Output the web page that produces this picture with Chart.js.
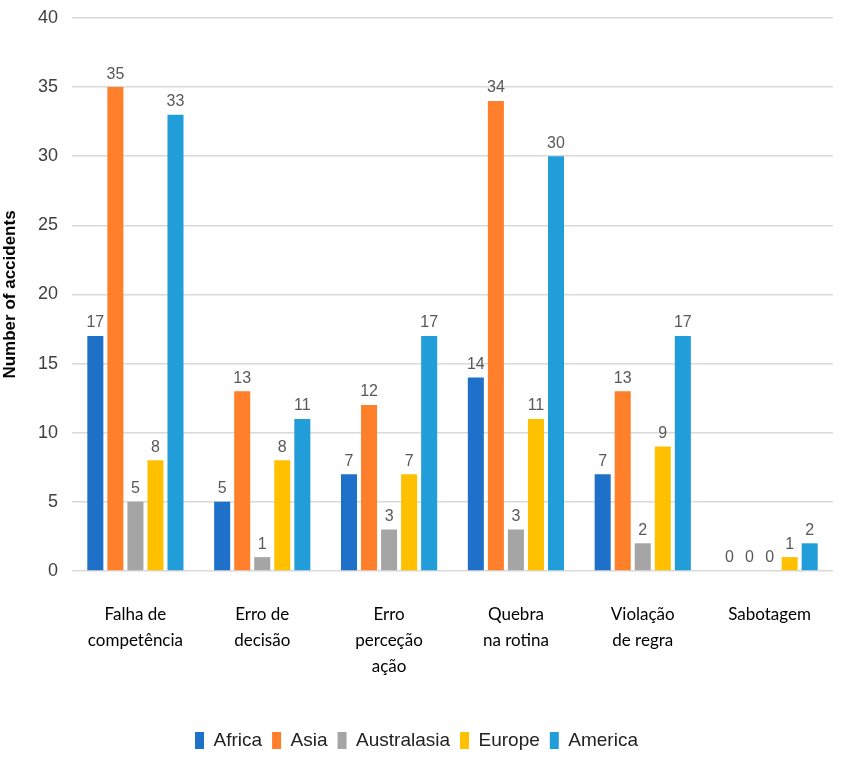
<!DOCTYPE html>
<html>
<head>
<meta charset="utf-8">
<script src="https://cdn.jsdelivr.net/npm/chart.js@4"></script>
<style>
  html, body { margin: 0; padding: 0; background: #fff; }
  #wrap { width: 853px; height: 760px; }
</style>
</head>
<body>
<div id="wrap"><canvas id="chartJS"></canvas></div>
<script>
const categories = [
    ['Falha de', 'competência'],
    ['Erro de', 'decisão'],
    ['Erro', 'perceção', 'ação'],
    ['Quebra', 'na rotina'],
    ['Violação', 'de regra'],
    ['Sabotagem']
];

const africa      = [17, 5, 7, 14, 7, 0];
const asia        = [35, 13, 12, 34, 13, 0];
const australasia = [5, 1, 3, 3, 2, 0];
const europe      = [8, 8, 7, 11, 9, 1];
const america     = [33, 11, 17, 30, 17, 2];

const yTicks = [0, 5, 10, 15, 20, 25, 30, 35, 40];

const SANS = 'Arial, "Liberation Sans", Helvetica, sans-serif';

// labels above every bar, zeros included
const valueLabels = {
    id: 'valueLabels',
    afterDatasetsDraw(chart) {
        const ctx = chart.ctx;
        ctx.save();
        ctx.font = '16px ' + SANS;
        ctx.fillStyle = '#595959';
        ctx.textAlign = 'center';
        ctx.textBaseline = 'bottom';
        chart.data.datasets.forEach((ds, i) => {
            chart.getDatasetMeta(i).data.forEach((bar, j) => {
                ctx.fillText(ds.data[j], bar.x, bar.y - 5);
            });
        });
        ctx.restore();
    }
};

const data = {
    labels: categories,
    datasets: [
        { label: 'Africa', data: africa, backgroundColor: '#1F70C8' },
        { label: 'Asia', data: asia, backgroundColor: '#FF7F2A' },
        { label: 'Australasia', data: australasia, backgroundColor: '#A5A5A5' },
        { label: 'Europe', data: europe, backgroundColor: '#FFC000' },
        { label: 'America', data: america, backgroundColor: '#219ED9' }
    ]
};

const config = {
    type: 'bar',
    data: data,
    options: {
        responsive: true,
        maintainAspectRatio: false,
        animation: false,
        datasets: {
            bar: { categoryPercentage: 0.79, barPercentage: 0.8 }
        },
        layout: { padding: { top: 0, right: 20, left: 0, bottom: 0 } },
        scales: {
            x: {
                grid: { display: false },
                border: { display: false },
                ticks: {
                    color: '#000',
                    font: { family: 'Lato, "Open Sans", sans-serif', size: 17, lineHeight: 1.55 },
                    padding: 22,
                    maxRotation: 0,
                    autoSkip: false
                },
                afterFit: s => { s.height += 19; }
            },
            y: {
                min: 0,
                max: 40,
                afterBuildTicks: s => { s.ticks = yTicks.map(v => ({ value: v })); },
                grid: { color: '#D9D9D9', drawTicks: false, lineWidth: 1.5 },
                border: { display: false },
                ticks: {
                    color: '#404040',
                    padding: 14,
                    font: { family: SANS, size: 18 }
                },
                title: {
                    display: true,
                    text: 'Number of accidents',
                    color: '#000',
                    font: { family: SANS, size: 17, weight: 'bold' },
                    padding: { top: 0, bottom: 4 }
                },
                afterFit: s => { s.width = 72; s.paddingTop = 18; }
            }
        },
        plugins: {
            legend: {
                position: 'bottom',
                labels: {
                    boxWidth: 9,
                    boxHeight: 17,
                    padding: 10,
                    color: '#222',
                    font: { family: SANS, size: 19 }
                }
            },
            tooltip: { enabled: false }
        }
    },
    plugins: [valueLabels]
};

const myChart = new Chart(
    document.getElementById('chartJS'),
    config
);
</script>
</body>
</html>
